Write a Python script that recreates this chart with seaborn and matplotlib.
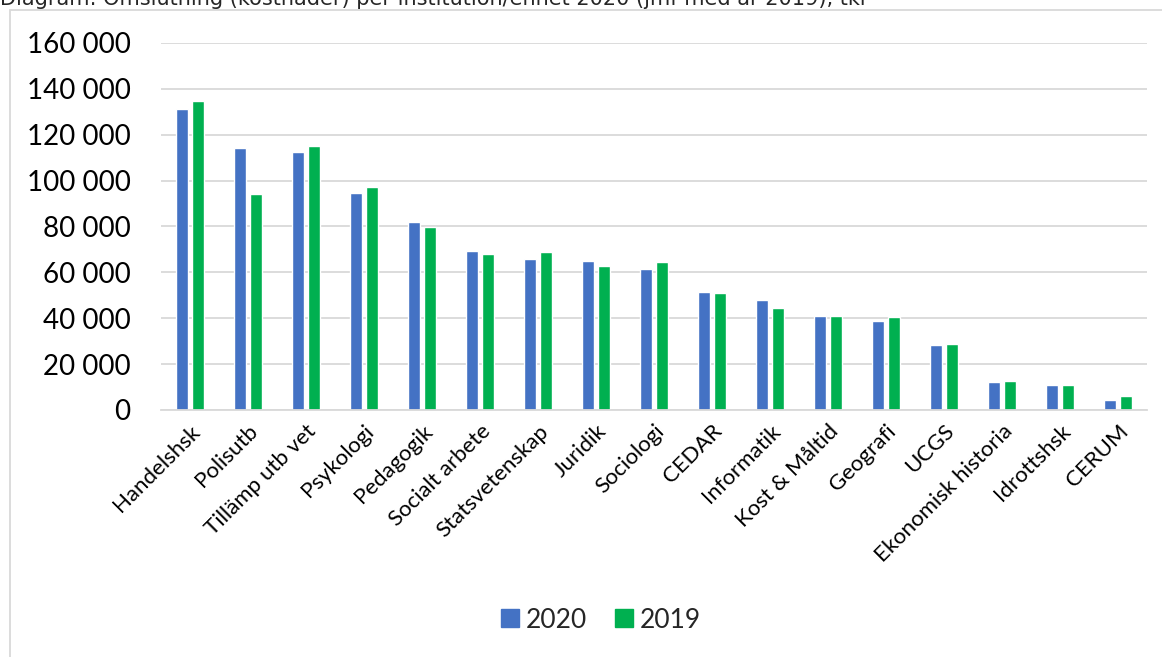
#!/usr/bin/env python3

import pandas
import seaborn as sns
import matplotlib.pyplot as plt
from matplotlib.patches import Rectangle
from matplotlib.lines import Line2D
from matplotlib.ticker import FuncFormatter

# Omslutning per institution/enhet, tkr
units = [
    "Handelshsk", "Polisutb", "Tillämp utb vet", "Psykologi", "Pedagogik",
    "Socialt arbete", "Statsvetenskap", "Juridik", "Sociologi", "CEDAR",
    "Informatik", "Kost & Måltid", "Geografi", "UCGS", "Ekonomisk historia",
    "Idrottshsk", "CERUM",
]
values_2020 = [
    131200, 114100, 112600, 94700, 82100, 69200, 66000, 65100, 61300,
    51400, 48000, 41000, 38900, 28200, 12200, 10800, 4200,
]
values_2019 = [
    134700, 94000, 115200, 97100, 79900, 68000, 68700, 62600, 64400,
    51000, 44600, 40900, 40700, 28600, 12500, 10800, 6100,
]
years = ["2020", "2019"]
palette = {"2020": "#4472C4", "2019": "#00B050"}

title = "Diagram: Omslutning (kostnader) per institution/enhet 2020 (jmf med år 2019), tkr"


def main():
    rows = []
    for unit, a, b in zip(units, values_2020, values_2019):
        rows.append([unit, "2020", a])
        rows.append([unit, "2019", b])
    df = pandas.DataFrame(rows, columns=["unit", "year", "value"])

    sns.set_style("white")
    plt.rcParams["font.family"] = ["Lato", "DejaVu Sans"]

    fig = plt.figure(figsize=(11.62, 6.57), dpi=100)
    ax = fig.add_axes([161 / 1162, 1 - 410 / 657, 986 / 1162, 367 / 657])

    sns.barplot(
        data=df, x="unit", y="value", hue="year", hue_order=years,
        palette=palette, width=0.55, gap=0.2, saturation=1,
        legend=False, ax=ax,
    )

    ax.set_ylim(0, 160000)
    ax.set_yticks(range(0, 160001, 20000))
    ax.yaxis.set_major_formatter(
        FuncFormatter(lambda v, _: f"{int(v):,}".replace(",", " "))
    )
    ax.grid(axis="y", color="#D9D9D9", linewidth=1.3)
    ax.set_axisbelow(True)
    for side in ["left", "right", "top"]:
        ax.spines[side].set_visible(False)
    ax.spines["bottom"].set_color("#D9D9D9")
    ax.spines["bottom"].set_linewidth(1.3)

    ax.set_xlabel("")
    ax.set_ylabel("")
    ax.tick_params(axis="y", length=0, pad=22, labelsize=20, colors="black")
    ax.tick_params(axis="x", length=0, pad=8, labelsize=16, colors="black")
    plt.setp(ax.get_xticklabels(), rotation=45, ha="right", rotation_mode="anchor")

    # Outer chart frame, cut off at right and bottom like the screenshot
    fig.patches.append(
        Rectangle((10 / 1162, -0.05), 1.2, 1 - 10 / 657 + 0.05,
                  transform=fig.transFigure, fill=False,
                  edgecolor="#D9D9D9", linewidth=1.3, zorder=0)
    )
    fig.text(0, 1 - 5 / 657, title, fontsize=15, va="baseline", ha="left",
             family=["DejaVu Sans"])

    handles = [
        Line2D([], [], marker="s", linestyle="", markersize=13,
               markerfacecolor=palette[y], markeredgecolor=palette[y])
        for y in years
    ]
    fig.legend(handles, years, loc="center", ncol=2, frameon=False,
               bbox_to_anchor=(600 / 1162, 1 - 620 / 657), fontsize=19,
               handletextpad=0.2, columnspacing=1.0, handlelength=0.8)

    fig.savefig("out.png", dpi=100)


if __name__ == "__main__":
    main()
